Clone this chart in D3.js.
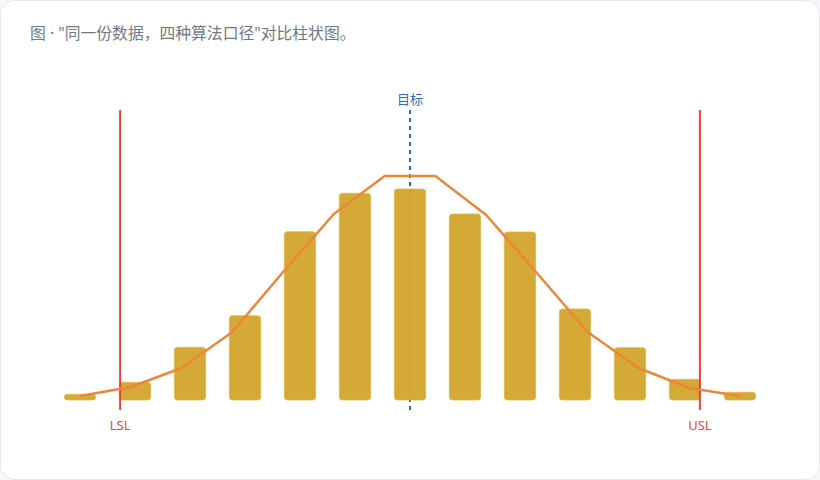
<!DOCTYPE html>
<html lang="zh">
<head>
<meta charset="utf-8">
<title>同一份数据，四种算法口径</title>
<script src="https://d3js.org/d3.v7.min.js"></script>
<style>
  html, body { margin: 0; padding: 0; background: #f7f8fa; }
  svg { display: block; font-family: "Noto Sans", "Noto Sans CJK SC", sans-serif; }
</style>
</head>
<body>
<svg id="chart" width="820" height="480"></svg>
<script>
// histogram bins (count per bin)
const bins = ["b1","b2","b3","b4","b5","b6","b7","b8","b9","b10","b11","b12","b13"];
const counts = [0.57, 1.77, 5.27, 8.43, 16.83, 20.67, 21.1, 18.6, 16.8, 9.1, 5.23, 2.07, 0.77];
// fitted curve, 14 points along the same span
const curve = [0.4, 1.3, 3.2, 6.8, 12.8, 18.6, 22.4, 22.4, 18.5, 12.7, 6.8, 3.2, 1.2, 0.4];
// spec limits, in curve index units
const specs = [
  {name: "LSL", at: 0.79, kind: "limit"},
  {name: "目标", at: 6.5, kind: "target"},
  {name: "USL", at: 12.21, kind: "limit"}
];
const title = "图 · \"同一份数据，四种算法口径\"对比柱状图。";

const svg = d3.select("#chart");
const W = 820, H = 480;

svg.append("rect")
  .attr("x", 0.5).attr("y", 0.5)
  .attr("width", W - 1).attr("height", H - 1)
  .attr("rx", 14)
  .attr("fill", "#fff")
  .attr("stroke", "#e3e7ee");

svg.append("text")
  .attr("x", 30).attr("y", 39)
  .attr("font-size", 15.8)
  .attr("fill", "#6e7a88")
  .text(title);

const x = d3.scaleBand().domain(bins).range([52.5, 767.5])
  .paddingInner(0.43).paddingOuter(0.215);
const xc = d3.scaleLinear().domain([0, curve.length - 1]).range([80, 740]);
const y = d3.scaleLinear().domain([0, 29]).range([400, 110]);

// target line goes under the bars
const target = specs.filter(d => d.kind === "target");
svg.selectAll("line.target").data(target).join("line")
  .attr("class", "target")
  .attr("x1", d => xc(d.at)).attr("x2", d => xc(d.at))
  .attr("y1", 110).attr("y2", 410)
  .attr("stroke", "#2a6fb5")
  .attr("stroke-width", 2)
  .attr("stroke-dasharray", "4,4");

svg.selectAll("rect.bar").data(counts).join("rect")
  .attr("class", "bar")
  .attr("x", (d, i) => x(bins[i]))
  .attr("y", d => y(d))
  .attr("width", x.bandwidth())
  .attr("height", d => y(0) - y(d))
  .attr("rx", 3)
  .attr("fill", "#d2a42a")
  .attr("fill-opacity", 0.95)
  .attr("stroke", "#dcb94e")
  .attr("stroke-width", 0.8);

const limits = specs.filter(d => d.kind === "limit");
svg.selectAll("line.limit").data(limits).join("line")
  .attr("class", "limit")
  .attr("x1", d => xc(d.at)).attr("x2", d => xc(d.at))
  .attr("y1", 110).attr("y2", 410)
  .attr("stroke", "#e2483a")
  .attr("stroke-width", 2);

svg.append("path")
  .datum(curve)
  .attr("fill", "none")
  .attr("stroke", "#eb873a")
  .attr("stroke-width", 2.5)
  .attr("stroke-linejoin", "round")
  .attr("d", d3.line().x((d, i) => xc(i)).y(d => y(d)));

svg.selectAll("text.limit").data(limits).join("text")
  .attr("class", "limit")
  .attr("x", d => xc(d.at)).attr("y", 430)
  .attr("text-anchor", "middle")
  .attr("font-size", 13)
  .attr("fill", "#e2483a")
  .text(d => d.name);

svg.selectAll("text.target").data(target).join("text")
  .attr("class", "target")
  .attr("x", d => xc(d.at)).attr("y", 104)
  .attr("text-anchor", "middle")
  .attr("font-size", 13)
  .attr("fill", "#2a6fb5")
  .text(d => d.name);
</script>
</body>
</html>
